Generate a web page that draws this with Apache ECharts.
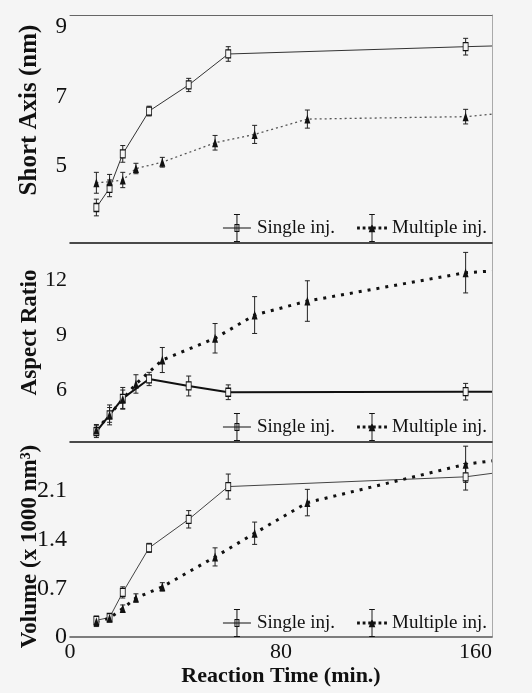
<!DOCTYPE html>
<html>
<head>
<meta charset="utf-8">
<script src="https://cdn.jsdelivr.net/npm/echarts@6/dist/echarts.min.js"></script>
<style>
  html, body { margin: 0; padding: 0; background: #f5f5f5; }
  #chart { width: 532px; height: 693px; }
</style>
</head>
<body>
<div id="chart"></div>
<script>
// reaction times (min.)
const timeSingle = [10, 15, 20, 30, 45, 60, 150]
const timeMultiple = [10, 15, 20, 25, 35, 55, 70, 90, 150]
const endTime = 160

// Short Axis (nm)
const shortSingle = [3.82, 4.37, 5.36, 6.59, 7.34, 8.23, 8.44]
const shortSingleErr = [0.24, 0.24, 0.24, 0.14, 0.19, 0.21, 0.24]
const shortMultiple = [4.53, 4.56, 4.61, 4.94, 5.12, 5.68, 5.92, 6.36, 6.43]
const shortMultipleErr = [0.3, 0.21, 0.22, 0.15, 0.14, 0.21, 0.26, 0.26, 0.21]
const shortEnd = [8.46, 6.5]

// Aspect Ratio
const aspectSingle = [3.76, 4.67, 5.57, 6.62, 6.24, 5.9, 5.93]
const aspectSingleErr = [0.32, 0.54, 0.59, 0.36, 0.54, 0.4, 0.45]
const aspectMultiple = [3.85, 4.67, 5.52, 6.35, 7.65, 8.83, 10.09, 10.85, 12.39]
const aspectMultipleErr = [0.3, 0.4, 0.5, 0.5, 0.68, 0.8, 1.0, 1.1, 1.1]
const aspectEnd = [5.93, 12.48]

// Volume (x 1000 nm3)
const volumeSingle = [0.24, 0.28, 0.64, 1.28, 1.69, 2.16, 2.3]
const volumeSingleErr = [0.06, 0.05, 0.08, 0.065, 0.125, 0.18, 0.19]
const volumeMultiple = [0.22, 0.27, 0.41, 0.56, 0.72, 1.15, 1.49, 1.93, 2.48]
const volumeMultipleErr = [0.07, 0.05, 0.05, 0.06, 0.06, 0.13, 0.16, 0.19, 0.26]
const volumeEnd = [2.35, 2.53]

// tick labels
const xTicks = [0, 80, 160]
const shortTicks = [5, 7, 9]
const aspectTicks = [6, 9, 12]
const volumeTicks = [0, 0.7, 1.4, 2.1]

const FONT = '"Liberation Serif", "DejaVu Serif", serif'
const INK = '#111'

var myChart = echarts.init(document.getElementById('chart'))

// line points, plus a last symbol-less point where the curve runs on to the edge
function linePoints (times, vals, endVal) {
  const pts = times.map((t, i) => [t, vals[i]])
  pts.push({ value: [endTime, endVal], symbol: 'none' })
  return pts
}

function errPoints (times, vals, errs) {
  return times.map((t, i) => [t, vals[i] - errs[i], vals[i] + errs[i]])
}

// vertical error bar with small caps
function renderErr (params, api) {
  const x = api.value(0)
  const lo = api.coord([x, api.value(1)])
  const hi = api.coord([x, api.value(2)])
  const cap = 2.5
  const style = { stroke: '#222', lineWidth: 1 }
  return {
    type: 'group',
    children: [
      { type: 'line', shape: { x1: lo[0], y1: lo[1], x2: hi[0], y2: hi[1] }, style: style },
      { type: 'line', shape: { x1: lo[0] - cap, y1: lo[1], x2: lo[0] + cap, y2: lo[1] }, style: style },
      { type: 'line', shape: { x1: hi[0] - cap, y1: hi[1], x2: hi[0] + cap, y2: hi[1] }, style: style }
    ]
  }
}

function errSeries (idx, data) {
  return {
    type: 'custom',
    name: 'err',
    xAxisIndex: idx,
    yAxisIndex: idx,
    renderItem: renderErr,
    encode: { x: 0, y: [1, 2] },
    data: data,
    z: 3,
    silent: true
  }
}

function singleSeries (idx, data, width, color) {
  return {
    type: 'line',
    name: 'Single inj.',
    xAxisIndex: idx,
    yAxisIndex: idx,
    data: data,
    symbol: 'rect',
    symbolSize: [5, 8],
    showAllSymbol: true,
    lineStyle: { color: color, width: width },
    itemStyle: { color: '#f5f5f5', borderColor: INK, borderWidth: 1 },
    z: 4
  }
}

function multipleSeries (idx, data, width, dash, color) {
  return {
    type: 'line',
    name: 'Multiple inj.',
    xAxisIndex: idx,
    yAxisIndex: idx,
    data: data,
    symbol: 'triangle',
    symbolSize: [6, 9],
    showAllSymbol: true,
    lineStyle: { color: color, width: width, type: dash },
    itemStyle: { color: INK },
    z: 4
  }
}

function pickLabel (list) {
  return function (v) {
    for (const t of list) {
      if (Math.abs(v - t) < 1e-6) return String(t)
    }
    return ''
  }
}

// panel layout (px)
const grids = [
  { left: 70, top: 15, width: 422, height: 228, outerBoundsMode: 'none' },
  { left: 70, top: 243, width: 422, height: 199, outerBoundsMode: 'none' },
  { left: 70, top: 442, width: 422, height: 195, outerBoundsMode: 'none' }
]

function xAxisFor (idx) {
  const last = idx === 2
  return {
    type: 'value',
    gridIndex: idx,
    min: 0,
    max: 160,
    axisLine: { show: true, onZero: false, lineStyle: { color: last ? '#555' : INK, width: 1.5 } },
    axisTick: { show: false },
    splitLine: { show: false },
    axisLabel: {
      show: last,
      customValues: xTicks,
      formatter: pickLabel(xTicks),
      margin: 4,
      fontFamily: FONT,
      fontSize: 22,
      color: INK,
      alignMaxLabel: 'right'
    },
    name: last ? 'Reaction Time (min.)' : '',
    nameLocation: 'middle',
    nameGap: 28,
    nameMoveOverlap: false,
    nameTextStyle: { fontFamily: FONT, fontSize: 22, fontWeight: 'bold', color: INK }
  }
}

function yAxisFor (idx, name, min, max, ticks, labelSize, nameSize, pad) {
  return {
    type: 'value',
    gridIndex: idx,
    min: min,
    max: max,
    axisLine: { show: false, onZero: false },
    axisTick: { show: false },
    splitLine: { show: false },
    axisLabel: {
      customValues: ticks,
      formatter: pickLabel(ticks),
      margin: 3,
      fontFamily: FONT,
      fontSize: labelSize,
      color: INK
    },
    name: name,
    nameLocation: 'middle',
    nameRotate: 90,
    nameGap: 28,
    nameMoveOverlap: false,
    nameTextStyle: { fontFamily: FONT, fontSize: nameSize, fontWeight: 'bold', color: INK, padding: pad }
  }
}

// right frame line of each panel
function rightFrame (idx, min, max) {
  return {
    type: 'value',
    gridIndex: idx,
    position: 'right',
    min: min,
    max: max,
    axisLine: { show: true, onZero: false, lineStyle: { color: '#aaa', width: 1 } },
    axisTick: { show: false },
    axisLabel: { show: false },
    splitLine: { show: false }
  }
}

// legend icons: line + marker + error bar
const iconSingle = 'path://M0 13.5h28v1h-28z M13.5 0h1v28h-1z M11 0h6v1h-6z M11 27h6v1h-6z M11.5 10h5v8h-5z M12.5 11v6h3v-6z'
const iconMultiple = 'path://M0 13.5h3v3h-3z M6 13.5h3v3h-3z M23 13.5h3v3h-3z M29 13.5h3v3h-3z M15.5 0h1v30h-1z M13 0h6v1h-6z M13 29h6v1h-6z M16 10L19.5 19.5L12.5 19.5z M12 13.5h8v3h-8z'

function legendFor (top) {
  return {
    right: 40,
    top: top,
    itemWidth: 30,
    itemHeight: 28,
    itemGap: 22,
    selectedMode: false,
    textStyle: { fontFamily: FONT, fontSize: 19, color: INK },
    data: [
      { name: 'Single inj.', icon: iconSingle, itemStyle: { color: INK, borderWidth: 0 } },
      { name: 'Multiple inj.', icon: iconMultiple, itemStyle: { color: INK, borderWidth: 0 } }
    ]
  }
}

const option = {
  backgroundColor: '#f5f5f5',
  animation: false,
  grid: grids,
  legend: [legendFor(209), legendFor(408), legendFor(604)],
  xAxis: [
    xAxisFor(0),
    xAxisFor(1),
    xAxisFor(2),
    // top frame line of the first panel
    {
      type: 'value', gridIndex: 0, position: 'top', min: 0, max: 160,
      axisLine: { show: true, onZero: false, lineStyle: { color: '#666', width: 1 } },
      axisTick: { show: false }, axisLabel: { show: false }, splitLine: { show: false }
    }
  ],
  yAxis: [
    yAxisFor(0, 'Short Axis (nm)', 2.8, 9.35, shortTicks, 23, 25, [0, 0, 0, 38]),
    yAxisFor(1, 'Aspect Ratio', 3.2, 14, aspectTicks, 22, 23, [0, 0, 0, 20]),
    yAxisFor(2, 'Volume (x 1000 nm³)', 0, 2.8, volumeTicks, 24, 23, [0, 14, 0, 0]),
    rightFrame(0, 2.8, 9.35),
    rightFrame(1, 3.2, 14),
    rightFrame(2, 0, 2.8)
  ],
  series: [
    singleSeries(0, linePoints(timeSingle, shortSingle, shortEnd[0]), 1, '#333'),
    multipleSeries(0, linePoints(timeMultiple, shortMultiple, shortEnd[1]), 1.3, [2, 3], '#555'),
    errSeries(0, errPoints(timeSingle, shortSingle, shortSingleErr)),
    errSeries(0, errPoints(timeMultiple, shortMultiple, shortMultipleErr)),

    singleSeries(1, linePoints(timeSingle, aspectSingle, aspectEnd[0]), 2, INK),
    multipleSeries(1, linePoints(timeMultiple, aspectMultiple, aspectEnd[1]), 3, [3, 6], INK),
    errSeries(1, errPoints(timeSingle, aspectSingle, aspectSingleErr)),
    errSeries(1, errPoints(timeMultiple, aspectMultiple, aspectMultipleErr)),

    singleSeries(2, linePoints(timeSingle, volumeSingle, volumeEnd[0]), 1, '#444'),
    multipleSeries(2, linePoints(timeMultiple, volumeMultiple, volumeEnd[1]), 3, [3, 6], INK),
    errSeries(2, errPoints(timeSingle, volumeSingle, volumeSingleErr)),
    errSeries(2, errPoints(timeMultiple, volumeMultiple, volumeMultipleErr))
  ]
}

myChart.setOption(option)
</script>
</body>
</html>
